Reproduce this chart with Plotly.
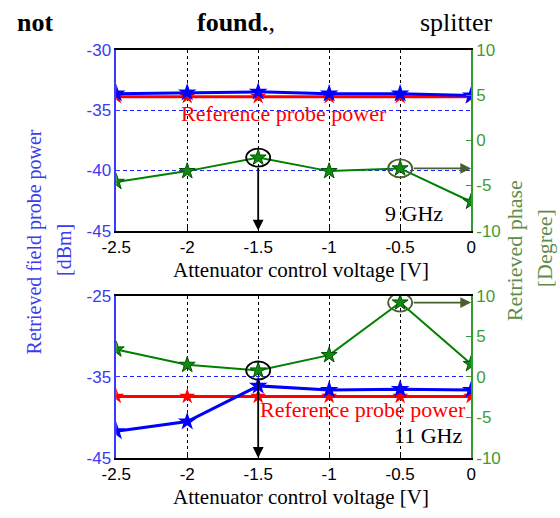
import plotly.graph_objects as go

# ---------------- data ----------------
voltage = [-2.5, -2.0, -1.5, -1.0, -0.5, 0.0]
voltage_labels = ["-2.5", "-2", "-1.5", "-1", "-0.5", "0"]

power_9ghz = [-33.6, -33.5, -33.45, -33.6, -33.6, -33.75]
ref_9ghz = [-33.85, -33.85, -33.85, -33.85, -33.85, -33.85]
phase_9ghz = [-4.6, -3.4, -1.9, -3.4, -3.1, -6.8]

power_11ghz = [-41.7, -40.5, -36.1, -36.6, -36.5, -36.6]
ref_11ghz = [-37.4, -37.4, -37.4, -37.4, -37.4, -37.4]
phase_11ghz = [3.4, 1.5, 0.8, 2.7, 9.2, 1.6]

top_left_ticks = [-45, -40, -35, -30]
bottom_left_ticks = [-45, -35, -25]
phase_ticks = [-10, -5, 0, 5, 10]

# ---------------- style ----------------
W, H = 560, 518
SERIF = "Liberation Serif"
SANS = "Liberation Sans"
BLUE = "#0000ff"
BLUE_AX = "#3a3aff"
BLUE_GRID = "#2020ff"
BLUE_TXT = "#3b3bef"
RED = "#ff0000"
GREEN = "#008000"
GREEN_AX = "#2f9a2f"
GREEN_TXT = "#3f9c33"
GREEN_TITLE = "#5e8d4a"
OLIVE = "#4a5f2e"


def px(x):
    return x / W


def py(y):
    return 1 - y / H


def labels(vals):
    return [str(v).replace("\u2212", "-") for v in vals]


fig = go.Figure()


def add_panel(xa, ya_left, ya_right, power, ref, phase):
    fig.add_trace(go.Scatter(
        x=voltage, y=ref, xaxis=xa, yaxis=ya_left, mode="lines+markers",
        line=dict(color=RED, width=3),
        marker=dict(symbol="star", size=12, color=RED),
        showlegend=False, hoverinfo="skip"))
    fig.add_trace(go.Scatter(
        x=voltage, y=power, xaxis=xa, yaxis=ya_left, mode="lines+markers",
        line=dict(color=BLUE, width=3),
        marker=dict(symbol="star", size=14, color=BLUE),
        showlegend=False, hoverinfo="skip"))
    fig.add_trace(go.Scatter(
        x=voltage, y=phase, xaxis=xa, yaxis=ya_right, mode="lines+markers",
        line=dict(color=GREEN, width=2),
        marker=dict(symbol="star", size=12, color="#118811",
                    line=dict(color="#005500", width=1)),
        showlegend=False, hoverinfo="skip"))


add_panel("x", "y", "y2", power_9ghz, ref_9ghz, phase_9ghz)
add_panel("x2", "y3", "y4", power_11ghz, ref_11ghz, phase_11ghz)

xdom = [px(105), px(473)]
top_dom = [py(230), py(43)]
bot_dom = [py(466), py(298)]


def xaxis_cfg():
    return dict(
        domain=xdom, range=[-2.5, 0], tickvals=voltage, ticktext=voltage_labels,
        showgrid=True, gridcolor="#000000", griddash="3px,3px", gridwidth=1,
        zeroline=False, showline=True, linecolor="#000000", linewidth=1.5,
        mirror=True, ticks="inside", ticklen=4, tickcolor="#000000",
        tickfont=dict(family=SANS, size=17, color="#000000"),
    )


def left_cfg():
    return dict(
        showgrid=True, gridcolor=BLUE_GRID, griddash="4px,3px", gridwidth=1.2,
        zeroline=False, showline=True, linecolor=BLUE_AX, linewidth=1.5,
        ticks="inside", ticklen=4, tickcolor=BLUE_AX,
        tickfont=dict(family=SANS, size=17, color=BLUE_TXT),
    )


right_common = dict(
    side="right", range=[-10, 10], tickvals=phase_ticks,
    ticktext=labels(phase_ticks),
    showgrid=False, zeroline=False,
    showline=True, linecolor=GREEN_AX,
    linewidth=1.5, ticks="inside", ticklen=5, tickcolor=GREEN_AX,
    tickfont=dict(family=SANS, size=17, color=GREEN_TXT),
)

fig.update_layout(
    width=W, height=H, margin=dict(l=0, r=0, t=0, b=0),
    paper_bgcolor="white", plot_bgcolor="white", showlegend=False,
    xaxis=dict(anchor="y", **xaxis_cfg()),
    yaxis=dict(anchor="x", domain=top_dom, range=[-45, -30],
               tickvals=top_left_ticks, ticktext=labels(top_left_ticks),
               **left_cfg()),
    yaxis2=dict(anchor="x", overlaying="y", **right_common),
    xaxis2=dict(anchor="y3", **xaxis_cfg()),
    yaxis3=dict(anchor="x2", domain=bot_dom, range=[-45, -25],
                tickvals=bottom_left_ticks, ticktext=labels(bottom_left_ticks),
                **left_cfg()),
    yaxis4=dict(anchor="x2", overlaying="y3", **right_common),
)


# circles and arrows highlighting selected points
def highlight(xref, yref, phase):
    for idx, col in ((2, "#000000"), (4, OLIVE)):
        fig.add_shape(type="circle", xref=xref, yref=yref,
                      xsizemode="pixel", ysizemode="pixel",
                      xanchor=voltage[idx], yanchor=phase[idx],
                      x0=-12, x1=12, y0=-9, y1=9,
                      line=dict(color=col, width=1.8))
    fig.add_annotation(x=voltage[2], y=-10, xref=xref, yref=yref,
                       ax=voltage[2], ay=phase[2], axref=xref, ayref=yref,
                       text="", showarrow=True, arrowhead=2, arrowsize=1.2,
                       arrowwidth=1.8, arrowcolor="#000000", startstandoff=9)
    fig.add_annotation(x=voltage[5], y=phase[4], xref=xref, yref=yref,
                       ax=voltage[4], ay=phase[4], axref=xref, ayref=yref,
                       text="", showarrow=True, arrowhead=2, arrowsize=1.2,
                       arrowwidth=1.8, arrowcolor=OLIVE, startstandoff=12)


highlight("x", "y2", phase_9ghz)
highlight("x2", "y4", phase_11ghz)


def text(x, y, s, size, color="#000000", angle=0, xanchor="center"):
    fig.add_annotation(x=px(x), y=py(y), xref="paper", yref="paper",
                       text=s, showarrow=False,
                       textangle=angle, xanchor=xanchor, yanchor="middle",
                       font=dict(family=SERIF, size=size, color=color))


# panel texts
text(279, 108, "Reference probe power", 22, RED)
text(414, 212, "9 GHz", 22)
text(361, 416, "Reference probe power", 22, RED)
text(428, 443, "11 GHz", 22)

# axis titles
text(297, 271, "Attenuator control voltage [V]", 21)
text(297, 507, "Attenuator control voltage [V]", 21)
text(20, 242, "Retrieved field probe power", 20, BLUE_TXT, angle=-90)
text(51, 250, "[dBm]", 20, BLUE_TXT, angle=-90)
text(518, 251, "Retrieved phase", 22, GREEN_TITLE, angle=-90)
text(550, 248, "[Degree]", 22, GREEN_TITLE, angle=-90)

# surrounding page text
text(0, 14, "<b>not</b>", 26, xanchor="left")
text(187, 14, "<b>found.</b>,", 26, xanchor="left")
text(418, 14, "splitter", 26, xanchor="left")

fig.write_html("out.html")
